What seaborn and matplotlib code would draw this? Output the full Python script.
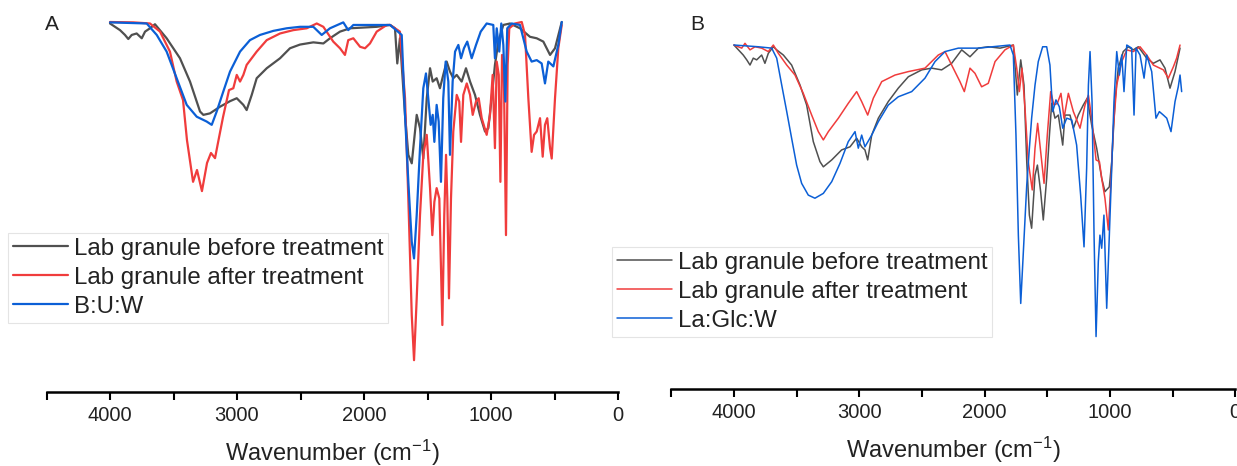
import numpy as np
import pandas as pd
import matplotlib
matplotlib.use("Agg")
import matplotlib.pyplot as plt
import seaborn as sns
from matplotlib.ticker import MultipleLocator

sns.set_style("ticks")
plt.rcParams['font.family'] = ['Liberation Sans', 'DejaVu Sans']
plt.rcParams['mathtext.fontset'] = 'custom'
plt.rcParams['mathtext.rm'] = 'Liberation Sans'
plt.rcParams['mathtext.it'] = 'Liberation Sans:italic'

# ---------------- Panel A data ----------------
A_before_wn = [4000, 3921, 3882, 3856, 3829, 3790, 3750, 3724, 3685, 3646,
               3554, 3449, 3370, 3291, 3265, 3213, 3134, 3055, 3002, 2950,
               2924, 2884, 2845, 2766, 2661, 2583, 2504, 2399, 2320, 2268,
               2189, 2110, 2005, 1900, 1795, 1756, 1738, 1717, 1677, 1651,
               1624, 1585, 1559, 1533, 1506, 1480, 1459, 1428, 1402, 1376,
               1349, 1323, 1297, 1270, 1231, 1197, 1165, 1126, 1087, 1047,
               1021, 995, 969, 942, 903, 850, 772, 693, 640, 588,
               535, 496, 443]
A_before_T = [99.6, 97.8, 96.5, 95.4, 96.5, 96.9, 95.6, 97.4, 98.3, 99.4,
              95.6, 90.2, 83.9, 75.8, 74.9, 75.3, 77.1, 78.6, 79.4, 77.6,
              76.2, 80.3, 84.8, 87.5, 90.2, 92.9, 93.9, 94.5, 94.2, 95.6,
              97.4, 98.3, 98.5, 98.7, 99.2, 98.3, 88.8, 95.6, 74.9, 64.1,
              61.8, 74.9, 71.3, 63.1, 79.4, 87.5, 83.9, 84.8, 82.1, 85.7,
              89.3, 86.6, 84.8, 85.7, 83.9, 87.5, 83.9, 80.3, 74.9, 70.4,
              71.3, 79.4, 88.4, 94.7, 99.2, 99.6, 98.3, 96.0, 95.6, 94.7,
              91.1, 92.9, 100]

A_after_wn = [4000, 3816, 3685, 3606, 3528, 3475, 3425, 3394, 3346, 3315,
              3276, 3236, 3205, 3173, 3150, 3110, 3063, 3029, 3002, 2976,
              2950, 2924, 2845, 2766, 2661, 2557, 2451, 2372, 2320, 2242,
              2189, 2150, 2124, 2084, 2031, 1992, 1953, 1900, 1821, 1795,
              1717, 1677, 1651, 1624, 1606, 1585, 1559, 1533, 1506, 1480,
              1462, 1446, 1428, 1407, 1383, 1368, 1354, 1344, 1331, 1315,
              1297, 1270, 1250, 1236, 1218, 1191, 1165, 1144, 1118, 1097,
              1073, 1034, 1008, 987, 969, 955, 939, 926, 913, 898,
              882, 869, 856, 811, 758, 732, 706, 680, 661, 640,
              614, 593, 575, 557, 535, 522, 496, 470, 443]
A_after_T = [100, 99.9, 99.6, 97.4, 92.0, 83.9, 78.9, 68.1, 56.8, 60.0,
             54.3, 61.9, 64.6, 63.2, 67.3, 74.3, 81.6, 82.1, 85.7, 83.9,
             85.7, 88.4, 92.0, 95.1, 96.9, 97.8, 98.3, 99.6, 98.7, 94.7,
             92.9, 91.1, 95.1, 95.6, 93.3, 92.9, 94.2, 97.4, 99.2, 99.2,
             97.4, 79.4, 52.3, 20.8, 8.6, 25.3, 47.8, 64.1, 69.5, 55.1,
             42.4, 51.4, 55.1, 52.3, 18.1, 47.8, 64.1, 52.3, 25.3, 52.3,
             70.4, 80.3, 78.5, 67.6, 80.3, 83.4, 80.3, 74.9, 78.5, 79.4,
             74.0, 69.5, 74.9, 85.7, 65.9, 89.3, 85.7, 56.8, 91.1, 83.9,
             42.4, 88.4, 98.3, 99.6, 100, 96.5, 79.4, 64.9, 69.5, 70.4,
             74.0, 63.6, 72.2, 74.0, 65.9, 63.1, 79.4, 92.9, 99.2]

A_buw_wn = [4000, 3711, 3632, 3554, 3475, 3396, 3317, 3239, 3199, 3160,
            3108, 3055, 2976, 2898, 2819, 2714, 2609, 2504, 2399, 2333,
            2268, 2163, 2124, 2084, 1900, 1795, 1703, 1677, 1651, 1624,
            1606, 1585, 1559, 1533, 1512, 1494, 1475, 1459, 1446, 1428,
            1412, 1394, 1376, 1357, 1336, 1323, 1302, 1283, 1257, 1236,
            1213, 1187, 1152, 1118, 1081, 1034, 982, 969, 955, 935,
            919, 903, 887, 872, 837, 772, 719, 680, 640, 601,
            575, 549, 509, 470, 443]
A_buw_T = [99.9, 99.6, 96.5, 92.0, 84.8, 77.6, 74.4, 73.1, 72.2, 75.8,
           81.2, 86.6, 92.0, 95.1, 96.5, 97.6, 98.3, 98.7, 98.7, 96.5,
           98.3, 99.9, 97.8, 99.2, 99.2, 99.2, 96.5, 74.9, 56.8, 40.6,
           36.1, 47.8, 65.9, 82.1, 86.1, 79.4, 72.2, 74.9, 67.6, 77.6,
           73.1, 56.8, 79.4, 89.3, 83.9, 64.1, 83.9, 92.0, 93.8, 90.2,
           92.9, 94.7, 90.2, 93.8, 97.4, 99.6, 99.2, 90.2, 98.3, 92.0,
           99.6, 93.8, 78.5, 98.3, 99.6, 99.2, 92.0, 89.3, 89.7, 88.8,
           83.4, 89.3, 88.0, 93.8, 100]

# ---------------- Panel B data ----------------
B_before_wn = [4000, 3926, 3898, 3872, 3846, 3819, 3779, 3753, 3726, 3686,
               3659, 3606, 3540, 3473, 3420, 3367, 3314, 3287, 3220, 3141,
               3074, 3021, 2981, 2955, 2933, 2901, 2848, 2769, 2689, 2609,
               2502, 2422, 2343, 2263, 2183, 2117, 2050, 1971, 1877, 1771,
               1739, 1712, 1686, 1664, 1643, 1625, 1598, 1579, 1553, 1532,
               1505, 1483, 1465, 1439, 1412, 1377, 1359, 1319, 1292, 1253,
               1213, 1181, 1146, 1106, 1066, 1040, 1005, 986, 960, 934,
               894, 854, 814, 774, 707, 654, 601, 561, 521, 481,
               441]
B_before_T = [99.7, 96.8, 95.4, 93.9, 95.9, 95.4, 96.8, 94.4, 97.3, 99.2,
              98.3, 96.8, 93.9, 88.1, 82.3, 71.7, 65.9, 64.4, 66.4, 69.3,
              70.2, 72.7, 70.2, 69.3, 66.4, 73.6, 78.5, 83.3, 87.2, 90.5,
              92.5, 93.0, 92.5, 94.4, 98.3, 96.3, 98.8, 99.2, 98.8, 99.7,
              85.2, 95.4, 88.1, 65.9, 50.4, 46.6, 62.0, 64.9, 57.2, 49.0,
              61.1, 73.6, 82.8, 78.5, 79.4, 70.7, 79.4, 79.4, 75.6, 79.4,
              82.3, 84.3, 76.5, 69.8, 61.1, 57.2, 58.6, 65.9, 83.3, 93.0,
              97.8, 99.2, 98.3, 99.2, 95.9, 94.4, 95.4, 93.0, 87.2, 92.0,
              98.8]

B_after_wn = [4000, 3938, 3912, 3872, 3832, 3779, 3726, 3686, 3646, 3579,
              3513, 3447, 3380, 3327, 3287, 3247, 3167, 3088, 3021, 2981,
              2933, 2888, 2821, 2715, 2609, 2476, 2370, 2316, 2263, 2197,
              2162, 2117, 2077, 2024, 1971, 1917, 1838, 1771, 1744, 1723,
              1702, 1678, 1652, 1620, 1598, 1577, 1553, 1526, 1500, 1473,
              1447, 1420, 1391, 1367, 1332, 1292, 1239, 1199, 1172, 1146,
              1111, 1084, 1066, 1040, 1013, 994, 973, 946, 906, 866,
              814, 760, 707, 654, 574, 534, 494, 468, 441]
B_after_T = [99.7, 98.8, 100.2, 98.3, 99.2, 98.8, 97.8, 99.7, 97.3, 93.9,
             91.0, 85.7, 79.4, 74.6, 72.2, 74.6, 78.5, 82.8, 86.2, 83.3,
             79.4, 84.3, 89.1, 91.0, 92.0, 93.0, 96.8, 97.8, 93.9, 89.1,
             86.2, 93.0, 91.5, 87.6, 88.6, 94.9, 98.3, 99.7, 93.0, 86.2,
             93.0, 81.4, 65.9, 57.7, 69.8, 77.0, 68.8, 59.6, 73.6, 86.2,
             82.3, 82.8, 85.7, 78.5, 85.7, 80.4, 75.6, 82.3, 85.2, 78.5,
             66.4, 65.9, 61.1, 55.3, 46.1, 59.1, 75.6, 88.1, 94.9, 98.3,
             97.8, 99.2, 96.8, 93.9, 92.5, 90.1, 93.4, 95.9, 99.7]

B_laglc_wn = [4000, 3806, 3699, 3659, 3619, 3579, 3540, 3500, 3460, 3407,
              3354, 3287, 3220, 3154, 3088, 3034, 3008, 2981, 2955, 2901,
              2848, 2769, 2689, 2582, 2476, 2396, 2316, 2210, 2050, 1798,
              1771, 1750, 1731, 1712, 1691, 1664, 1643, 1625, 1598, 1572,
              1537, 1505, 1479, 1457, 1431, 1404, 1377, 1345, 1305, 1266,
              1234, 1207, 1186, 1172, 1159, 1143, 1127, 1111, 1093, 1080,
              1066, 1048, 1026, 1005, 986, 968, 946, 925, 906, 888,
              866, 827, 808, 792, 760, 728, 707, 667, 633, 606,
              574, 547, 513, 481, 455, 441, 428]
B_laglc_T = [99.7, 99.2, 98.8, 95.9, 88.1, 80.4, 72.7, 64.9, 59.6, 56.2,
             55.3, 56.7, 60.1, 65.4, 71.7, 74.6, 69.8, 73.6, 70.2, 73.6,
             77.5, 82.3, 84.7, 86.2, 90.1, 94.9, 97.8, 98.8, 98.8, 99.7,
             96.8, 73.6, 44.6, 24.8, 39.8, 59.1, 69.8, 78.5, 88.1, 94.9,
             99.2, 99.2, 93.9, 80.4, 83.8, 81.8, 75.6, 78.5, 78.0, 70.7,
             56.2, 41.2, 64.0, 88.1, 97.8, 83.3, 44.6, 15.2, 36.9, 44.6,
             40.8, 50.4, 23.4, 44.6, 64.0, 83.3, 97.8, 91.0, 96.8, 86.2,
             99.7, 98.8, 79.4, 98.8, 96.8, 90.1, 96.8, 92.0, 78.5, 80.4,
             79.4, 78.5, 74.6, 83.3, 87.6, 91.0, 86.2]

labels_A = ["Lab granule before treatment", "Lab granule after treatment", "B:U:W"]
labels_B = ["Lab granule before treatment", "Lab granule after treatment", "La:Glc:W"]
colors = ["#505050", "#f03c3c", "#0b5fd6"]

W, H = 1237, 466
fig = plt.figure(figsize=(W / 100, H / 100), dpi=100)
axA = fig.add_axes([46.5 / W, 74 / H, 571.5 / W, 384.8 / H])
axB = fig.add_axes([671.3 / W, 77 / H, 564 / W, 358.8 / H])


def make_df(series, labels):
    frames = []
    for (wn, T), lab in zip(series, labels):
        frames.append(pd.DataFrame({"wn": wn, "T": T, "series": lab}))
    return pd.concat(frames, ignore_index=True)


def draw(ax, df, labels, lw, legend_xy):
    sns.lineplot(data=df, x="wn", y="T", hue="series", hue_order=labels,
                 palette=dict(zip(labels, colors)), sort=False, estimator=None,
                 linewidth=lw, ax=ax)
    ax.set_xlim(4500, 0)
    ax.set_ylim(0, 104)
    ax.xaxis.set_major_locator(MultipleLocator(1000))
    ax.xaxis.set_minor_locator(MultipleLocator(500))
    ax.tick_params(axis="x", which="both", direction="out", length=6,
                   width=1.5, labelsize=14.5, pad=4, colors="black")
    for t in ax.get_xticklabels():
        t.set_color("#222222")
    ax.set_yticks([])
    for s in ["top", "left", "right"]:
        ax.spines[s].set_visible(False)
    ax.spines["bottom"].set_linewidth(1.8)
    ax.spines["bottom"].set_color("black")
    ax.set_ylabel("")
    ax.set_xlabel("Wavenumber (cm$^{-1}$)", fontsize=17, labelpad=9,
                  color="#222222")
    handles, labs = ax.get_legend_handles_labels()
    ax.get_legend().remove()
    leg = ax.legend(handles, labs, loc="upper left",
                    bbox_to_anchor=(legend_xy[0] / W, 1 - legend_xy[1] / H),
                    bbox_transform=fig.transFigure, fontsize=17.3,
                    frameon=True, fancybox=False, framealpha=1,
                    edgecolor="#e4e4e4", borderpad=0.2, handlelength=2.3,
                    handletextpad=0.25, labelspacing=0.29, borderaxespad=0)
    leg.get_frame().set_linewidth(0.8)
    for t in leg.get_texts():
        t.set_color("#222222")


draw(axA, make_df([(A_before_wn, A_before_T), (A_after_wn, A_after_T),
                   (A_buw_wn, A_buw_T)], labels_A), labels_A, 1.6, (8, 233))
draw(axB, make_df([(B_before_wn, B_before_T), (B_after_wn, B_after_T),
                   (B_laglc_wn, B_laglc_T)], labels_B), labels_B, 1.1, (612, 247))

fig.text(52 / W, 1 - 25 / H, "A", fontsize=15, ha="center", va="center",
         color="#222222")
fig.text(697 / W, 1 - 25 / H, "B", fontsize=15, ha="center", va="center",
         color="#222222")

fig.savefig("out.png", dpi=100)
